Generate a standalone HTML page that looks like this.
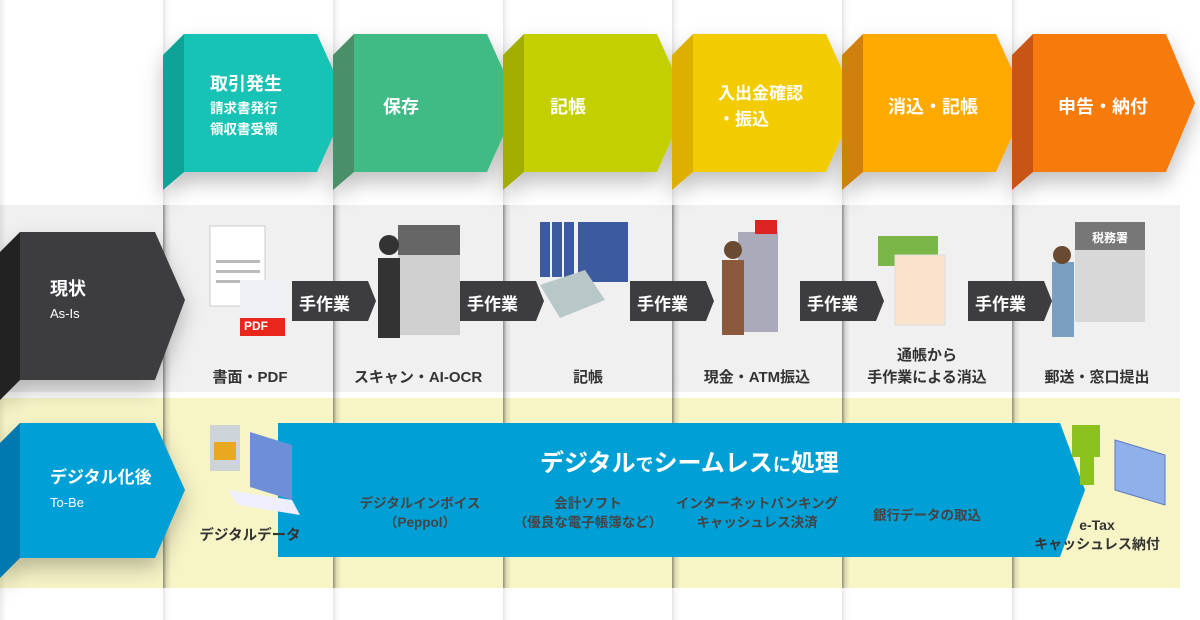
<!DOCTYPE html>
<html><head><meta charset="utf-8"><style>
*{margin:0;padding:0;box-sizing:border-box}
body{width:1200px;height:620px;background:#fff;position:relative;overflow:hidden;font-family:"Liberation Sans","Noto Sans CJK JP",sans-serif}
.a{position:absolute}
.t{position:absolute;color:#fff;font-weight:bold}
.cap{position:absolute;color:#333;font-weight:bold;font-size:15px;text-align:center;width:170px;line-height:20px}
.sub{position:absolute;color:#444;font-weight:bold;font-size:13.5px;text-align:center;width:170px;line-height:19px}
.sep{position:absolute;top:0;width:8px;height:620px;background:linear-gradient(90deg,rgba(0,0,0,.10),rgba(0,0,0,.03) 40%,rgba(0,0,0,0))}
.sepb{position:absolute;width:8px;background:linear-gradient(90deg,rgba(0,0,0,.35),rgba(0,0,0,.08) 40%,rgba(0,0,0,0))}
</style></head><body>
<div class="a" style="left:0;top:205px;width:1180px;height:187px;background:#f0f0f0"></div>
<div class="a" style="left:0;top:398px;width:1180px;height:190px;background:#f7f4c6"></div>
<div class="sep" style="left:163px"></div>
<div class="sep" style="left:333px"></div>
<div class="sep" style="left:503px"></div>
<div class="sep" style="left:672px"></div>
<div class="sep" style="left:842px"></div>
<div class="sep" style="left:1012px"></div>
<div class="sepb" style="left:163px;top:205px;height:383px"></div>
<div class="sepb" style="left:333px;top:205px;height:383px"></div>
<div class="sepb" style="left:503px;top:205px;height:383px"></div>
<div class="sepb" style="left:672px;top:205px;height:383px"></div>
<div class="sepb" style="left:842px;top:205px;height:383px"></div>
<div class="sepb" style="left:1012px;top:205px;height:383px"></div>
<div class="a" style="left:0;top:0;width:6px;height:620px;background:linear-gradient(90deg,rgba(0,0,0,.08),rgba(0,0,0,0))"></div>

<svg class="a" style="left:0;top:0" width="1200" height="620">
<defs><filter id="sh" x="-20%" y="-20%" width="140%" height="160%"><feDropShadow dx="0" dy="10" stdDeviation="10" flood-opacity=".25"/></filter></defs>
<g filter="url(#sh)">
<polygon points="163,55 184,34 184,172 163,190" fill="#0aa396"/><polygon points="184,34 317,34 348,103 317,172 184,172" fill="#13c3b5"/>
<polygon points="333,55 354,34 354,172 333,190" fill="#4a9068"/><polygon points="354,34 487,34 518,103 487,172 354,172" fill="#3fbb85"/>
<polygon points="503,55 524,34 524,172 503,190" fill="#a3ad00"/><polygon points="524,34 657,34 688,103 657,172 524,172" fill="#c3cf00"/>
<polygon points="672,55 693,34 693,172 672,190" fill="#ddb000"/><polygon points="693,34 826,34 857,103 826,172 693,172" fill="#f2cb00"/>
<polygon points="842,55 863,34 863,172 842,190" fill="#d0800a"/><polygon points="863,34 996,34 1027,103 996,172 863,172" fill="#fda900"/>
<polygon points="1012,55 1033,34 1033,172 1012,190" fill="#c85516"/><polygon points="1033,34 1166,34 1195,103 1166,172 1033,172" fill="#f77a07"/>
<polygon points="0,252 20,232 20,380 0,400" fill="#222"/><polygon points="20,232 155,232 185,300 155,380 20,380" fill="#3d3d40"/>
<polygon points="0,443 20,423 20,558 0,578" fill="#0078b0"/><polygon points="20,423 155,423 185,490 155,558 20,558" fill="#00a0d6"/>
</g>
<polygon points="278,423 1060,423 1085,490 1060,557 278,557" fill="#00a0d6"/>
<g fill="#3d3d40">
<polygon points="292,281 368,281 376,301 368,321 292,321"/>
<polygon points="460,281 536,281 544,301 536,321 460,321"/>
<polygon points="630,281 706,281 714,301 706,321 630,321"/>
<polygon points="800,281 876,281 884,301 876,321 800,321"/>
<polygon points="968,281 1044,281 1052,301 1044,321 968,321"/>
</g>
<rect x="210" y="226" width="55" height="80" fill="#fff" stroke="#ccc"/>
<g fill="#bbb"><rect x="216" y="260" width="44" height="3"/><rect x="216" y="270" width="44" height="3"/><rect x="216" y="280" width="44" height="3"/></g>
<rect x="240" y="280" width="45" height="56" fill="#eef0f3"/><rect x="240" y="318" width="45" height="18" fill="#e8271c"/>
<rect x="398" y="225" width="62" height="110" fill="#d0d0d0"/><rect x="398" y="225" width="62" height="30" fill="#666"/>
<rect x="378" y="258" width="22" height="80" fill="#333"/><circle cx="389" cy="245" r="10" fill="#333"/>
<g fill="#3c5aa0"><rect x="540" y="222" width="10" height="55"/><rect x="552" y="222" width="10" height="55"/><rect x="564" y="222" width="10" height="55"/><rect x="578" y="222" width="50" height="60"/></g>
<polygon points="540,285 585,270 605,300 560,318" fill="#b8c8c8"/>
<rect x="738" y="232" width="40" height="100" fill="#aab"/><rect x="755" y="220" width="22" height="14" fill="#d22"/>
<rect x="722" y="260" width="22" height="75" fill="#8b5a3c"/><circle cx="733" cy="250" r="9" fill="#6a4a30"/>
<rect x="878" y="236" width="60" height="30" fill="#7ab648"/><rect x="895" y="255" width="50" height="70" fill="#fbe2cc" stroke="#ddd"/>
<rect x="1075" y="222" width="70" height="100" fill="#d8d8d8"/><rect x="1075" y="222" width="70" height="28" fill="#777"/>
<text x="1110" y="242" fill="#fff" font-size="12" font-weight="bold" text-anchor="middle" font-family="Noto Sans CJK JP">税務署</text>
<rect x="1052" y="262" width="22" height="75" fill="#7a9fc0"/><circle cx="1062" cy="255" r="9" fill="#6a4a30"/>
<rect x="210" y="425" width="30" height="46" fill="#cdd5da"/><rect x="214" y="442" width="22" height="18" fill="#e8a820"/>
<polygon points="250,432 292,445 292,500 250,487" fill="#6c8fd8"/><polygon points="228,490 292,500 300,515 238,505" fill="#eef"/>
<rect x="1072" y="425" width="28" height="32" fill="#8cc220"/><rect x="1080" y="455" width="14" height="30" fill="#8cc220"/>
<polygon points="1115,440 1165,455 1165,505 1115,490" fill="#8fb0ea" stroke="#5a7ac0"/>
</svg>

<div class="t" style="left:210px;top:70px;font-size:18px">取引発生</div>
<div class="t" style="left:210px;top:98px;font-size:13.5px;line-height:21px">請求書発行<br>領収書受領</div>
<div class="t" style="left:383px;top:93px;font-size:18px">保存</div>
<div class="t" style="left:550px;top:93px;font-size:18px">記帳</div>
<div class="t" style="left:718px;top:81px;font-size:17px;line-height:26px">入出金確認<br>・振込</div>
<div class="t" style="left:888px;top:93px;font-size:18px">消込・記帳</div>
<div class="t" style="left:1058px;top:93px;font-size:18px">申告・納付</div>
<div class="t" style="left:50px;top:275px;font-size:18px">現状</div>
<div class="t" style="left:50px;top:306px;font-size:13px;font-weight:normal">As-Is</div>
<div class="t" style="left:50px;top:463px;font-size:17px">デジタル化後</div>
<div class="t" style="left:50px;top:495px;font-size:13px;font-weight:normal">To-Be</div>
<div class="t" style="left:299px;top:290px;font-size:17px">手作業</div>
<div class="t" style="left:467px;top:290px;font-size:17px">手作業</div>
<div class="t" style="left:637px;top:290px;font-size:17px">手作業</div>
<div class="t" style="left:807px;top:290px;font-size:17px">手作業</div>
<div class="t" style="left:975px;top:290px;font-size:17px">手作業</div>
<div class="t" style="left:244px;top:319px;font-size:12px">PDF</div>
<div class="cap" style="left:165px;top:368px">書面・PDF</div>
<div class="cap" style="left:333px;top:368px">スキャン・AI-OCR</div>
<div class="cap" style="left:503px;top:368px">記帳</div>
<div class="cap" style="left:672px;top:368px">現金・ATM振込</div>
<div class="cap" style="left:842px;top:345px;line-height:22px">通帳から<br>手作業による消込</div>
<div class="cap" style="left:1012px;top:368px">郵送・窓口提出</div>
<div class="t" style="left:540px;top:443px;font-size:24px">デジタル<span style="font-size:18px">で</span>シームレス<span style="font-size:18px">に</span>処理</div>
<div class="cap" style="left:165px;top:526px;font-size:14.5px">デジタルデータ</div>
<div class="sub" style="left:335px;top:494px">デジタルインボイス<br>（Peppol）</div>
<div class="sub" style="left:503px;top:494px">会計ソフト<br>（優良な電子帳簿など）</div>
<div class="sub" style="left:672px;top:494px">インターネットバンキング<br>キャッシュレス決済</div>
<div class="sub" style="left:842px;top:506px">銀行データの取込</div>
<div class="sub" style="left:1012px;top:516px;font-size:14px;color:#333">e-Tax<br>キャッシュレス納付</div>
</body></html>
